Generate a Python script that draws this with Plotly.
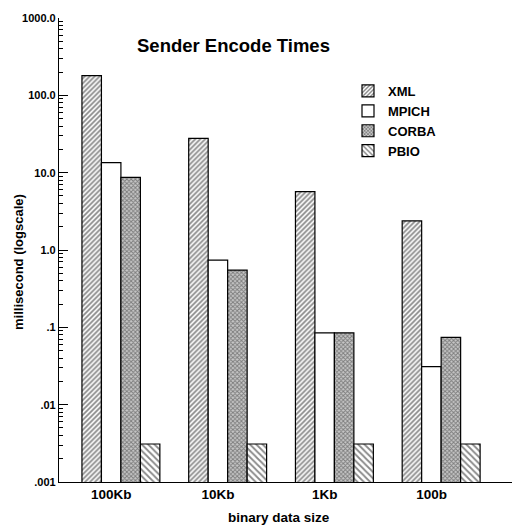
import plotly.graph_objects as go
import numpy as np

categories = ["100Kb", "10Kb", "1Kb", "100b"]
xml = [180, 27.7, 5.7, 2.38]
mpich = [13.5, 0.74, 0.085, 0.031]
corba = [8.7, 0.55, 0.085, 0.074]
pbio = [0.0031, 0.0031, 0.0031, 0.0031]

ytick_vals = [0.001, 0.01, 0.1, 1, 10, 100, 1000]
ytick_text = [".001", ".01", ".1", "1.0", "10.0", "100.0", "1000.0"]

xpos = np.arange(len(categories))
FONT = "Liberation Sans, Arial, sans-serif"

# page has an 8px body margin; work in page pixels and convert
OFF = 8
W, H = 512, 519
L, T = 59 - OFF, 18 - OFF
R = W - (518 - OFF)
B = H - (482 - OFF)
PW, PH = W - L - R, H - T - B


def px_x(x):
    return (x - OFF - L) / PW


def px_y(y):
    return 1 - (y - OFF - T) / PH


fig = go.Figure()
series = [
    ("XML", xml, dict(shape="/", fgcolor="#111111", bgcolor="white", size=3.5, solidity=0.5)),
    ("MPICH", mpich, dict(shape="", bgcolor="white")),
    ("CORBA", corba, dict(shape="x", fgcolor="#333333", bgcolor="#c8c8c8", size=3, solidity=0.55)),
    ("PBIO", pbio, dict(shape="\\", fgcolor="#111111", bgcolor="white", size=4.5, solidity=0.4)),
]
for name, vals, pat in series:
    fig.add_trace(go.Bar(
        name=name, x=xpos, y=vals,
        marker=dict(color="white", pattern=pat, line=dict(color="black", width=1.2)),
    ))

fig.update_layout(
    width=W, height=H,
    margin=dict(l=L, r=R, t=T, b=B, autoexpand=False),
    plot_bgcolor="white", paper_bgcolor="white",
    barmode="group", bargap=0.27, bargroupgap=0,
    font=dict(family=FONT, size=11, color="black"),
    showlegend=True,
    legend=dict(x=px_x(348), y=px_y(76), xanchor="left", yanchor="top",
                font=dict(family=FONT, size=13, color="black", weight="bold"),
                bgcolor="rgba(0,0,0,0)", tracegroupgap=0, itemwidth=30),
    annotations=[
        dict(text="<b>Sender Encode Times</b>", x=px_x(233), xref="paper", y=px_y(46), yref="paper",
             yanchor="middle", showarrow=False, font=dict(size=18.5, family=FONT)),
        dict(text="<b>binary data size</b>", x=px_x(279), xref="paper", y=px_y(517), yref="paper",
             yanchor="middle", showarrow=False, font=dict(size=13.5, family=FONT)),
        dict(text="<b>millisecond (logscale)</b>", x=px_x(18), xref="paper", y=px_y(262), yref="paper",
             xanchor="center", yanchor="middle", textangle=-90, showarrow=False,
             font=dict(size=13, family=FONT)),
    ],
)

fig.update_xaxes(
    range=[-0.58, 3.72], tickmode="array", tickvals=xpos - 0.09, ticktext=[f"<b>{c}</b>" for c in categories],
    showline=True, linecolor="black", linewidth=1, ticks="", showgrid=False, zeroline=False,
    tickfont=dict(size=13.5, family=FONT), automargin=False,
)
fig.update_yaxes(
    type="log", range=[-3, 3], tickmode="array", tickvals=ytick_vals,
    ticktext=[f"<b>{t}</b>" for t in ytick_text],
    showline=True, linecolor="black", linewidth=1.2, ticks="inside", ticklen=9, tickcolor="black",
    minor=dict(ticks="inside", ticklen=4, tickcolor="black", showgrid=False,
               tickvals=[m * 10.0 ** e for e in range(-3, 3) for m in range(2, 10)]),
    showgrid=False, zeroline=False, tickfont=dict(size=11, family=FONT), automargin=False,
)

fig.write_html("out.html")
